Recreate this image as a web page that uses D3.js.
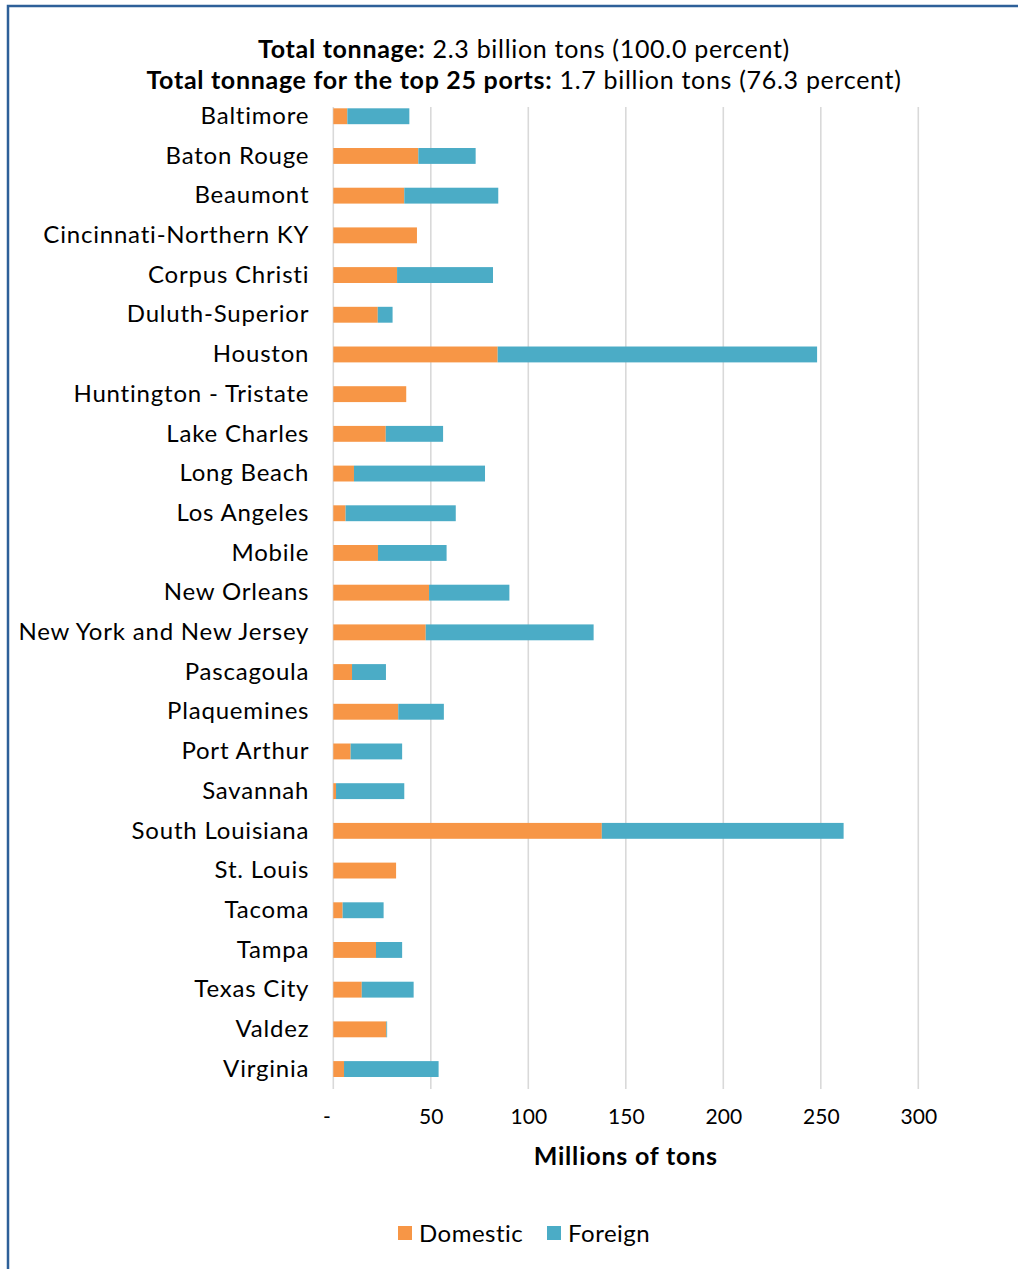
<!DOCTYPE html>
<html>
<head>
<meta charset="utf-8">
<script src="https://cdn.jsdelivr.net/npm/d3@7"></script>
<style>
  html, body { margin: 0; padding: 0; background: #fff; }
  svg { display: block; }
  text { font-family: Lato, "Open Sans", sans-serif; fill: #000; }
</style>
</head>
<body>
<svg id="chart" width="1018" height="1269"></svg>
<script>
const ports = ["Baltimore","Baton Rouge","Beaumont","Cincinnati-Northern KY","Corpus Christi","Duluth-Superior","Houston","Huntington - Tristate","Lake Charles","Long Beach","Los Angeles","Mobile","New Orleans","New York and New Jersey","Pascagoula","Plaquemines","Port Arthur","Savannah","South Louisiana","St. Louis","Tacoma","Tampa","Texas City","Valdez","Virginia"];
const domestic = [7.2,43.6,36.4,42.9,32.7,22.8,84.3,37.4,26.9,10.6,6.3,22.9,49.1,47.4,9.6,33.3,8.9,1.4,137.7,32.2,4.8,21.9,14.6,27.2,5.5];
const foreign  = [31.8,29.4,48.2,0,49.2,7.6,163.8,0,29.4,67.2,56.5,35.2,41.2,86.1,17.4,23.4,26.4,35.0,124.0,0,21.0,13.4,26.6,0.4,48.5];
const seriesNames = ["Domestic","Foreign"];
const seriesColors = ["#F79646","#4BACC6"];
const xTicks = [0,50,100,150,200,250,300];
const titleLine1 = ["Total tonnage:", " 2.3 billion tons (100.0 percent)"];
const titleLine2 = ["Total tonnage for the top 25 ports:", " 1.7 billion tons (76.3 percent)"];
const xAxisTitle = "Millions of tons";

const svg = d3.select("#chart");

// outer border
svg.append("rect").attr("x", 8).attr("y", 6).attr("width", 1100).attr("height", 1400)
  .attr("fill", "none").attr("stroke", "#2E6099").attr("stroke-width", 2.5);

const x = d3.scaleLinear().domain([0, 300]).range([333.3, 918.3]);
const y = d3.scaleBand().domain(ports).range([96.4, 1088.9]).paddingInner(0.6).paddingOuter(0.3);

// gridlines
svg.append("g").selectAll("line").data(xTicks).join("line")
  .attr("x1", d => x(d)).attr("x2", d => x(d))
  .attr("y1", 107).attr("y2", 1089)
  .attr("stroke", "#D9D9D9").attr("stroke-width", 1.6);

// stacked bars
const rows = ports.map((p, i) => ({ port: p, Domestic: domestic[i], Foreign: foreign[i] }));
const stacked = d3.stack().keys(seriesNames)(rows);
svg.append("g").selectAll("g").data(stacked).join("g")
  .attr("fill", (d, i) => seriesColors[i])
  .selectAll("rect").data(d => d).join("rect")
  .attr("x", d => x(d[0]))
  .attr("y", d => y(d.data.port))
  .attr("width", d => Math.max(0, x(d[1]) - x(d[0])))
  .attr("height", y.bandwidth());

// y axis labels
const yAxis = svg.append("g").attr("transform", `translate(${x(0)},0)`)
  .call(d3.axisLeft(y).tickSize(0).tickPadding(24));
yAxis.select(".domain").remove();
yAxis.selectAll("text").style("font-family", "Lato, sans-serif").style("font-size", "24px")
  .style("letter-spacing", "0.8px").attr("fill", "#000");

// x axis labels
const xAxis = svg.append("g").attr("transform", `translate(0,1089)`)
  .call(d3.axisBottom(x).tickValues(xTicks).tickSize(0).tickPadding(20)
    .tickFormat(d => d === 0 ? "-" : d3.format("d")(d)));
xAxis.select(".domain").remove();
xAxis.selectAll("text").style("font-family", "Lato, sans-serif").style("font-size", "21px").attr("fill", "#000");
xAxis.selectAll(".tick").filter(d => d === 0).select("text").attr("dx", -7);

// axis title
svg.append("text").attr("x", (x(0) + x(300)) / 2).attr("y", 1165)
  .attr("text-anchor", "middle").style("font-size", "25px").style("font-weight", "bold")
  .style("letter-spacing", "0.8px")
  .text(xAxisTitle);

// title
function titleLine(parts, yPos) {
  const t = svg.append("text").attr("x", 524).attr("y", yPos).attr("text-anchor", "middle")
    .style("font-size", "25px").style("letter-spacing", "0.7px");
  t.append("tspan").style("font-weight", "bold").text(parts[0]);
  t.append("tspan").text(parts[1]);
}
titleLine(titleLine1, 58);
titleLine(titleLine2, 89);

// legend
const legend = svg.append("g");
const legX = [398, 547];
seriesNames.forEach((s, i) => {
  legend.append("rect").attr("x", legX[i]).attr("y", 1226).attr("width", 14).attr("height", 14).attr("fill", seriesColors[i]);
  legend.append("text").attr("x", legX[i] + 21).attr("y", 1242).style("font-size", "24px")
    .style("letter-spacing", "0.5px").text(s);
});
</script>
</body>
</html>
